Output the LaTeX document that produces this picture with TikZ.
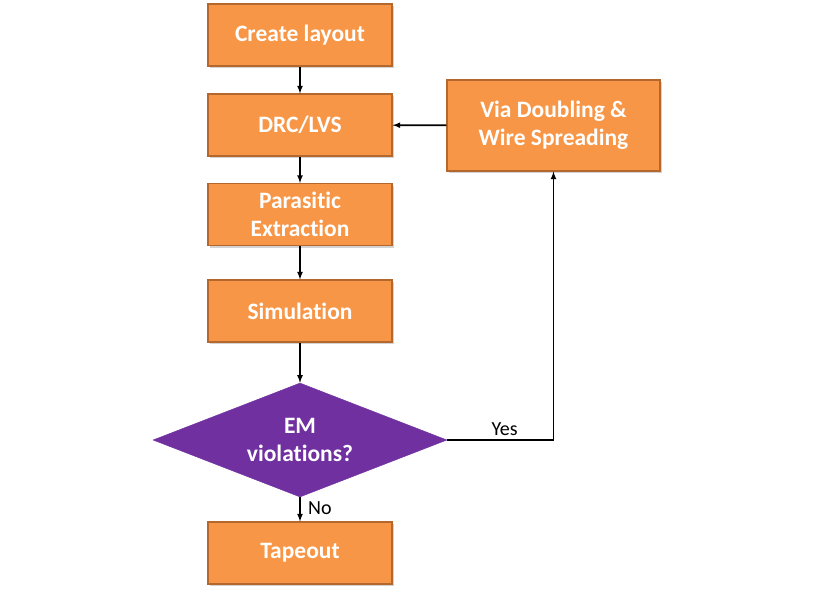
\documentclass[tikz,border=0pt]{standalone}
\usepackage{fontspec}
\setmainfont[Ligatures=NoCommon]{Carlito}
\usetikzlibrary{shapes.geometric,shadows}
\definecolor{boxfill}{HTML}{F79646}
\definecolor{boxline}{HTML}{B5682E}
\definecolor{emfill}{HTML}{7030A0}
\tikzset{
  stepbox/.style={rectangle, draw=boxline, line width=1.2pt, fill=boxfill,
    minimum width=184pt, minimum height=62pt, align=center, text=white,
    font=\fontsize{23.5}{28}\selectfont\bfseries,
    drop shadow={opacity=0.35, shadow xshift=2pt, shadow yshift=-2pt}},
  decide/.style={diamond, fill=emfill, draw=emfill, minimum width=294pt,
    minimum height=114pt, aspect=2.58, inner sep=0pt, align=center, text=white,
    font=\fontsize{23.5}{28}\selectfont\bfseries},
  flow/.style={-latex, line width=1.6pt},
  answer/.style={font=\fontsize{20}{22}\selectfont}
}
\begin{document}
\begin{tikzpicture}[x=1pt,y=-1pt]
  \useasboundingbox (0,0) rectangle (820,595);
  % boxes of the flow
  \node[stepbox] (create) at (300,35) {Create layout};
  \node[stepbox] (drc) at (300,125) {DRC/LVS};
  \node[stepbox] (parasitic) at (300,214.5) {Parasitic\\Extraction};
  \node[stepbox] (sim) at (300,311) {Simulation};
  \node[decide] (em) at (300,440) {EM\\violations?};
  \node[stepbox] (tapeout) at (300,553) {Tapeout};
  \node[stepbox, minimum width=213pt, minimum height=91pt] (via) at (553.5,125.5) {Via Doubling \&\\Wire Spreading};
  % connectors
  \draw[flow] (create) -- (drc);
  \draw[flow] (drc) -- (parasitic);
  \draw[flow] (parasitic) -- (sim);
  \draw[flow] (sim) -- (em);
  \draw[flow] (em) -- (tapeout) node[pos=0.45, right, xshift=4pt, answer] (no) {No};
  \draw[flow] (em.east) -| (via.south) node[pos=0.27, above, answer] (yes) {Yes};
  \draw[flow] (via) -- (drc);
\end{tikzpicture}
\end{document}
